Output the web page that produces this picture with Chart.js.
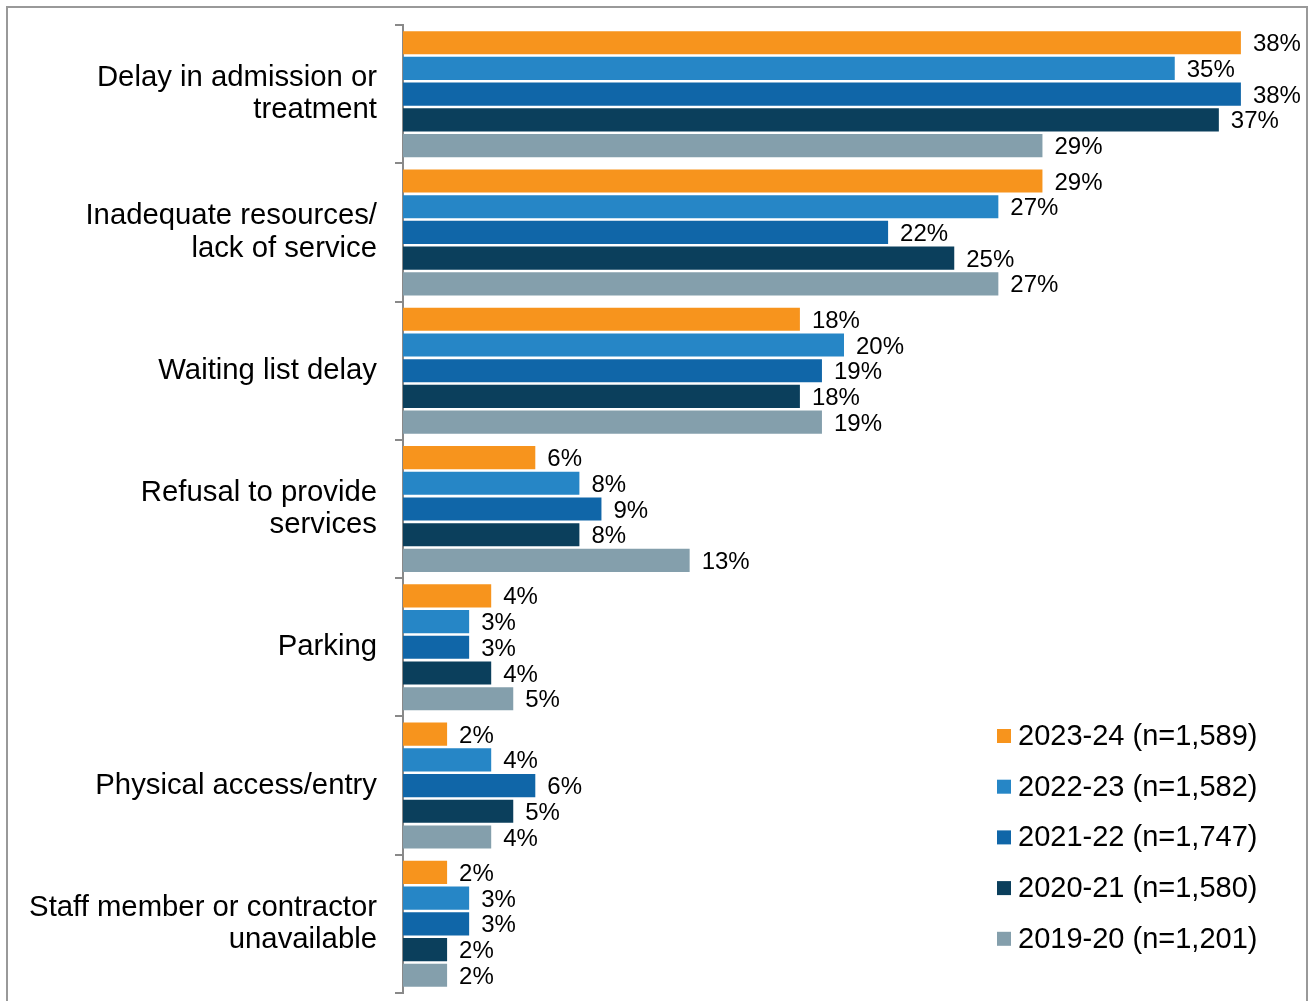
<!DOCTYPE html>
<html>
<head>
<meta charset="utf-8">
<script src="https://cdn.jsdelivr.net/npm/chart.js@4/dist/chart.umd.min.js"></script>
<style>
  html, body { margin: 0; padding: 0; background: #fff; }
  #wrap { width: 1312px; height: 1001px; position: relative; }
</style>
</head>
<body>
<div id="wrap"><canvas id="complaintsChart" width="1312" height="1001"></canvas></div>
<script>
// categories (top to bottom)
const categories = [
    ['Delay in admission or', 'treatment'],
    ['Inadequate resources/', 'lack of service'],
    'Waiting list delay',
    ['Refusal to provide', 'services'],
    'Parking',
    'Physical access/entry',
    ['Staff member or contractor', 'unavailable']
];

// series values, percent
const y2023_24 = [38, 29, 18, 6, 4, 2, 2];
const y2022_23 = [35, 27, 20, 8, 3, 4, 3];
const y2021_22 = [38, 22, 19, 9, 3, 6, 3];
const y2020_21 = [37, 25, 18, 8, 4, 5, 2];
const y2019_20 = [29, 27, 19, 13, 5, 4, 2];

const seriesLabels = [
    '2023-24 (n=1,589)',
    '2022-23 (n=1,582)',
    '2021-22 (n=1,747)',
    '2020-21 (n=1,580)',
    '2019-20 (n=1,201)'
];
const colours = ['#F7941D', '#2686C6', '#1066A8', '#0B3F5C', '#849FAC'];

const FONT = 'Arial, "Liberation Sans", sans-serif';

// value labels at the end of each bar
const valueLabels = {
    id: 'valueLabels',
    afterDatasetsDraw(chart) {
        const ctx = chart.ctx;
        ctx.save();
        ctx.font = '24px ' + FONT;
        ctx.fillStyle = '#000';
        ctx.textBaseline = 'middle';
        ctx.textAlign = 'left';
        chart.data.datasets.forEach((ds, i) => {
            chart.getDatasetMeta(i).data.forEach((bar, j) => {
                ctx.fillText(ds.data[j] + '%', bar.x + 12, bar.y + 2);
            });
        });
        ctx.restore();
    }
};

// legend in the lower right, plus the outer frame
const sideLegend = {
    id: 'sideLegend',
    afterDraw(chart) {
        const ctx = chart.ctx;
        ctx.save();
        ctx.font = '29px ' + FONT;
        ctx.textBaseline = 'middle';
        ctx.textAlign = 'left';
        seriesLabels.forEach((lab, i) => {
            const cy = 736 + i * 50.7;
            ctx.fillStyle = colours[i];
            ctx.fillRect(997, cy - 7, 14, 14);
            ctx.fillStyle = '#000';
            ctx.fillText(lab, 1018, cy + 1);
        });
        ctx.strokeStyle = '#999';
        ctx.lineWidth = 2;
        ctx.strokeRect(7, 7, 1300, 1010);
        ctx.restore();
    }
};

const ctx = document.getElementById('complaintsChart').getContext('2d');
const datasets = [y2023_24, y2022_23, y2021_22, y2020_21, y2019_20].map((d, i) => ({
    label: seriesLabels[i],
    data: d,
    backgroundColor: colours[i],
    borderWidth: 0,
    categoryPercentage: 0.93,
    barPercentage: 0.9
}));

new Chart(ctx, {
    type: 'bar',
    data: { labels: categories, datasets: datasets },
    options: {
        indexAxis: 'y',
        responsive: false,
        animation: false,
        layout: { padding: { top: 25, bottom: 8, right: 27, left: 0 } },
        plugins: {
            legend: { display: false },
            tooltip: { enabled: false }
        },
        scales: {
            x: { display: false, min: 0, max: 40 },
            y: {
                afterFit(scale) {
                    scale.width = 403;
                    scale.paddingTop = 0;
                    scale.paddingBottom = 0;
                },
                grid: {
                    drawOnChartArea: false,
                    color: '#898989',
                    lineWidth: 2,
                    tickLength: 8
                },
                border: { color: '#898989', width: 2 },
                ticks: {
                    padding: 18,
                    color: '#000',
                    font: { family: FONT, size: 29.3, lineHeight: 1.1 }
                }
            }
        }
    },
    plugins: [valueLabels, sideLegend]
});
</script>
</body>
</html>
